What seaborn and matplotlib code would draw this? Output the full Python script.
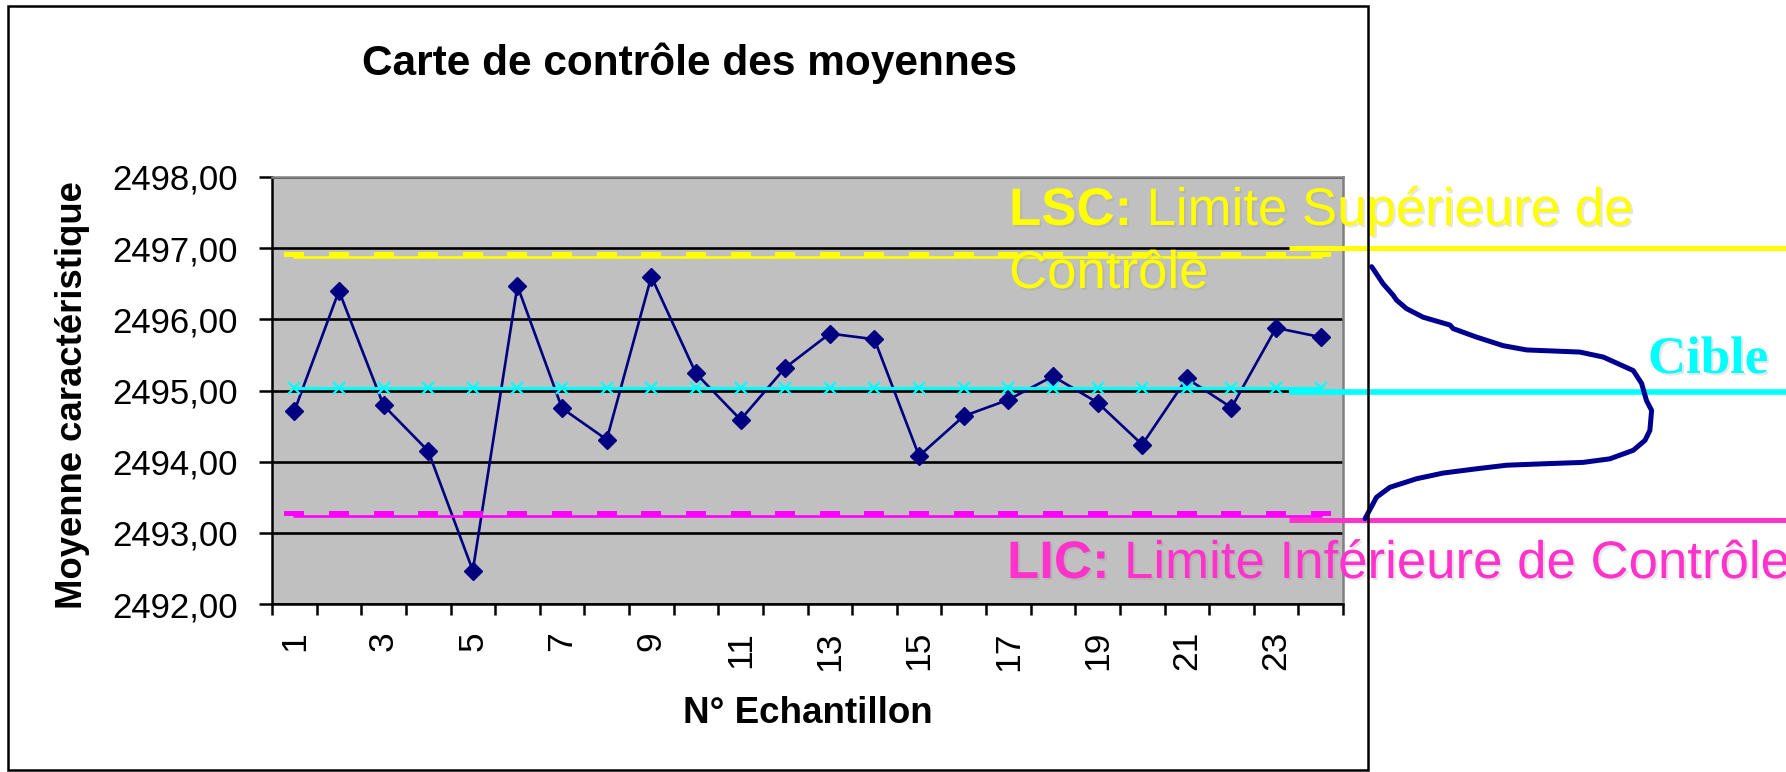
import numpy as np
import matplotlib
matplotlib.use("Agg")
import matplotlib.pyplot as plt
import matplotlib.patheffects as pe
from matplotlib.path import Path
from matplotlib.patches import Rectangle
from matplotlib.ticker import FuncFormatter
import seaborn as sns

# ---------------------------------------------------------------- data
echantillons = list(range(1, 25))
moyennes = [2494.71, 2496.40, 2494.79, 2494.15, 2492.47, 2496.47, 2494.75, 2494.31,
            2496.60, 2495.24, 2494.59, 2495.32, 2495.80, 2495.72, 2494.08, 2494.64,
            2494.87, 2495.20, 2494.83, 2494.24, 2495.17, 2494.76, 2495.88, 2495.75]

lsc = 2496.88     # limite supérieure de contrôle
cible = 2495.03   # cible
lic = 2493.23     # limite inférieure de contrôle

# guide lines drawn beside the chart
lsc_guide = 2497.00
cible_guide = 2494.98
lic_guide = 2493.18

# sideways bell curve: level (same units as the chart) and relative width
courbe_niveau = [2496.74, 2496.50, 2496.34, 2496.27, 2496.15, 2496.03, 2495.92, 2495.87,
                 2495.75, 2495.63, 2495.57, 2495.54, 2495.47, 2495.28, 2495.10, 2494.86,
                 2494.72, 2494.44, 2494.30, 2494.16, 2494.04, 2493.99, 2493.97, 2493.95,
                 2493.90, 2493.84, 2493.76, 2493.64, 2493.50, 2493.20]
courbe_largeur = [0.020, 0.060, 0.095, 0.107, 0.142, 0.200, 0.294, 0.305,
                  0.387, 0.480, 0.562, 0.748, 0.830, 0.935, 0.964, 0.981,
                  0.999, 0.993, 0.976, 0.935, 0.853, 0.760, 0.620, 0.492,
                  0.387, 0.270, 0.177, 0.084, 0.037, -0.003]

y_ticks = [2492, 2493, 2494, 2495, 2496, 2497, 2498]
x_label_pos = list(range(1, 24, 2))
x_labels = [str(v) for v in x_label_pos]

# ---------------------------------------------------------------- style
sns.set_theme(style="ticks")
plt.rcParams["font.family"] = ["Liberation Sans", "DejaVu Sans"]

NAVY = "#000080"
YELLOW = "#FFFF00"
CYAN = "#00FFFF"
MAGENTA = "#FF00FF"
PINK = "#FF33CC"

W, H = 1786, 772
fig = plt.figure(figsize=(W / 100, H / 100), dpi=100, facecolor="white")

# plot area
left, right, top, bottom = 272, 1343, 177, 604
ax = fig.add_axes([left / W, 1 - bottom / H, (right - left) / W, (bottom - top) / H])
ax.set_facecolor("#C0C0C0")

# dash marker sitting just above the limit line
dash = Path([(-1, 0.05), (1, 0.05), (1, 0.55), (-1, 0.55), (-1, 0.05)],
            [Path.MOVETO, Path.LINETO, Path.LINETO, Path.LINETO, Path.CLOSEPOLY])

sns.lineplot(x=echantillons, y=moyennes, ax=ax, color=NAVY, lw=1.9,
             marker="D", markersize=9.5, markerfacecolor=NAVY,
             markeredgecolor=NAVY, markeredgewidth=1, zorder=3)
sns.lineplot(x=echantillons, y=[lsc] * len(echantillons), ax=ax, color=YELLOW, lw=1.9,
             marker=dash, markersize=14, markerfacecolor=YELLOW,
             markeredgecolor=YELLOW, markeredgewidth=0, zorder=4)
sns.lineplot(x=echantillons, y=[cible] * len(echantillons), ax=ax, color=CYAN, lw=2.2,
             marker="x", markersize=9, markeredgecolor=CYAN,
             markeredgewidth=1.6, zorder=4)
sns.lineplot(x=echantillons, y=[lic] * len(echantillons), ax=ax, color=MAGENTA, lw=1.9,
             marker=dash, markersize=14, markerfacecolor=MAGENTA,
             markeredgecolor=MAGENTA, markeredgewidth=0, zorder=4)

ax.set_xlim(0.5, 24.5)
ax.set_ylim(2492, 2498)
ax.set_xlabel("")
ax.set_ylabel("")
ax.set_axisbelow(True)

ax.set_yticks(y_ticks)
ax.yaxis.set_major_formatter(FuncFormatter(lambda v, _: f"{v:.2f}".replace(".", ",")))
ax.yaxis.grid(True, color="black", lw=1.9)
ax.xaxis.grid(False)

ax.set_xticks(np.arange(0.5, 25, 1))
ax.set_xticklabels([])
ax.set_xticks(x_label_pos, minor=True)
ax.set_xticklabels(x_labels, minor=True, rotation=90, fontsize=25.5)

ax.tick_params(axis="y", which="major", direction="out", length=9.4, width=1.8,
               pad=15.0, labelsize=25, colors="black", left=True)
ax.tick_params(axis="x", which="major", direction="out", length=8, width=1.8,
               bottom=True, labelbottom=False, color="black")
ax.tick_params(axis="x", which="minor", length=0, pad=19.5, labelsize=25.5,
               labelcolor="black")

for side in ("left", "bottom"):
    ax.spines[side].set_color("black")
    ax.spines[side].set_linewidth(1.8)
for side in ("top", "right"):
    ax.spines[side].set_visible(True)
    ax.spines[side].set_color("#808080")
    ax.spines[side].set_linewidth(1.8)

# ---------------------------------------------------------------- side panel
sx0, sx1 = 1289, 1786
ax2 = fig.add_axes([sx0 / W, 1 - bottom / H, (sx1 - sx0) / W, (bottom - top) / H])
ax2.set_xlim(-0.269, 1.469)
ax2.set_ylim(2492, 2498)
ax2.axis("off")
ax2.patch.set_alpha(0)

ax2.axhline(lsc_guide, color=YELLOW, lw=3.6, solid_capstyle="butt")
ax2.axhline(cible_guide, color=CYAN, lw=4.0, solid_capstyle="butt")
ax2.axhline(lic_guide, color=PINK, lw=3.6, solid_capstyle="butt")
sns.lineplot(x=courbe_largeur, y=courbe_niveau, ax=ax2, sort=False, estimator=None,
             color="#000090", lw=3.6, solid_joinstyle="round")
for line in ax2.get_lines():
    line.set_clip_on(False)

# ---------------------------------------------------------------- frame
fig.add_artist(Rectangle((8 / W, 2 / H), 1360 / W, 764 / H, transform=fig.transFigure,
                         fill=False, ec="black", lw=1.8, zorder=2))

# ---------------------------------------------------------------- texts
fig.text(689 / W, 1 - 75 / H, "Carte de contrôle des moyennes", ha="center",
         va="baseline", fontsize=30.5, fontweight="bold", color="black")
fig.text(73 / W, 1 - 395 / H, "Moyenne caractéristique", ha="center", va="center",
         rotation=90, fontsize=26.3, fontweight="bold", color="black")
fig.text(808 / W, 1 - 723 / H, "N° Echantillon", ha="center", va="baseline",
         fontsize=26.5, fontweight="bold", color="black")

shadow = [pe.withSimplePatchShadow(offset=(1.5, -1.5), shadow_rgbFace="#909090",
                                   alpha=0.22)]

t_lsc = fig.text(1009 / W, 1 - 225 / H, "LSC:", ha="left", va="baseline", fontsize=38,
                 fontweight="bold", color=YELLOW, path_effects=shadow, zorder=5)
ax.annotate(" Limite Supérieure de", xy=(1, 0), xycoords=t_lsc, ha="left", va="bottom",
            fontsize=38, color=YELLOW, path_effects=shadow, annotation_clip=False,
            zorder=5)
fig.text(1009 / W, 1 - 288 / H, "Contrôle", ha="left", va="baseline", fontsize=38,
         color=YELLOW, path_effects=shadow, zorder=5)

t_lic = fig.text(1007 / W, 1 - 578 / H, "LIC:", ha="left", va="baseline", fontsize=38,
                 fontweight="bold", color=PINK, path_effects=shadow, zorder=5)
ax.annotate(" Limite Inférieure de Contrôle", xy=(1, 0), xycoords=t_lic, ha="left",
            va="bottom", fontsize=38, color=PINK, path_effects=shadow,
            annotation_clip=False, zorder=5)

fig.text(1648 / W, 1 - 373 / H, "Cible", ha="left", va="baseline", fontsize=38,
         fontweight="bold", color=CYAN, family=["Liberation Serif", "DejaVu Serif"],
         path_effects=shadow, zorder=5)

fig.savefig("out.png", dpi=100, facecolor="white")
